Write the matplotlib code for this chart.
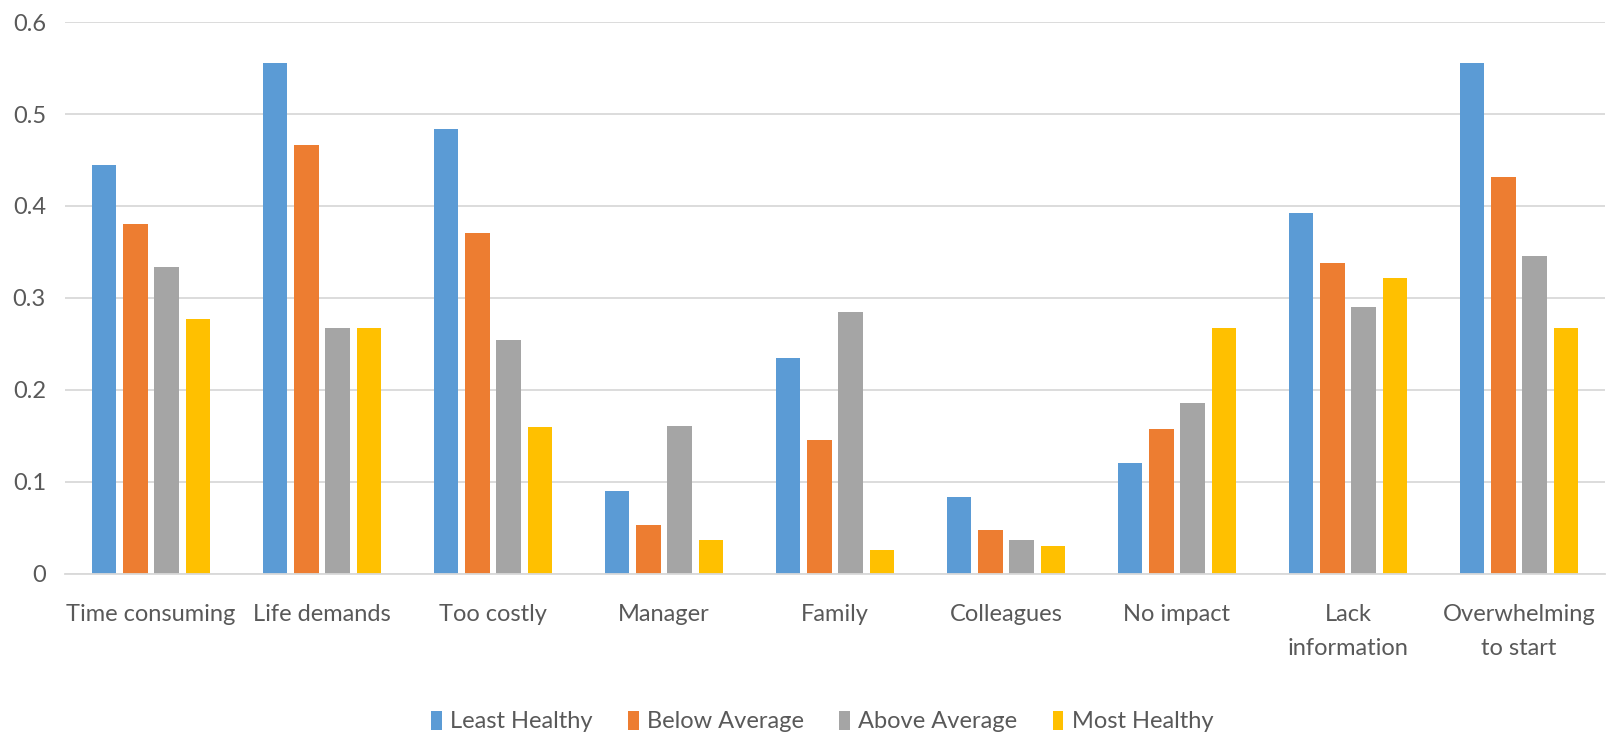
import matplotlib
matplotlib.use("Agg")
import matplotlib.pyplot as plt
import numpy as np

categories = ["Time consuming", "Life demands", "Too costly", "Manager", "Family",
              "Colleagues", "No impact", "Lack\ninformation", "Overwhelming\nto start"]
series_names = ["Least Healthy", "Below Average", "Above Average", "Most Healthy"]
least_healthy = [0.445, 0.556, 0.484, 0.090, 0.235, 0.083, 0.120, 0.392, 0.556]
below_average = [0.380, 0.466, 0.371, 0.053, 0.145, 0.047, 0.157, 0.338, 0.431]
above_average = [0.334, 0.267, 0.254, 0.161, 0.285, 0.037, 0.186, 0.290, 0.346]
most_healthy = [0.277, 0.267, 0.159, 0.037, 0.026, 0.030, 0.267, 0.322, 0.267]
y_ticks = [0, 0.1, 0.2, 0.3, 0.4, 0.5, 0.6]
y_tick_labels = ["0", "0.1", "0.2", "0.3", "0.4", "0.5", "0.6"]

colors = ["#5B9BD5", "#ED7D31", "#A5A5A5", "#FFC000"]
text_color = "#595959"
grid_color = "#D9D9D9"

plt.rcParams["font.family"] = ["Lato", "DejaVu Sans"]

fig = plt.figure(figsize=(16.15, 7.40), dpi=100)
ax = fig.add_axes([0.0405, 0.225, 0.953, 0.745])

x = np.arange(len(categories))
step = 0.183
width = 0.144
all_series = [least_healthy, below_average, above_average, most_healthy]
for k, (vals, name, col) in enumerate(zip(all_series, series_names, colors)):
    ax.bar(x + (k - 1.5) * step, vals, width=width, color=col, label=name, zorder=3)

ax.set_xlim(-0.5, len(categories) - 0.5)
ax.set_ylim(0, 0.6)
ax.set_yticks(y_ticks)
ax.set_yticklabels(y_tick_labels)
ax.set_xticks(x)
ax.set_xticklabels(categories, linespacing=1.75, va="top")

ax.yaxis.grid(True, color=grid_color, linewidth=1.3, zorder=0)
for s in ["top", "right", "left"]:
    ax.spines[s].set_visible(False)
ax.spines["bottom"].set_color(grid_color)
ax.spines["bottom"].set_linewidth(1.3)
ax.spines["bottom"].set_zorder(4)

ax.tick_params(axis="y", length=0, pad=14, labelsize=17, labelcolor=text_color)
ax.tick_params(axis="x", length=0, pad=22, labelsize=17, labelcolor=text_color)

leg = fig.legend(loc="center", bbox_to_anchor=(0.509, 0.025), ncol=4, frameon=False,
                 fontsize=17, handlelength=0.45, handleheight=0.9, handletextpad=0.35,
                 columnspacing=1.5, labelcolor=text_color)

fig.savefig("out.png", dpi=100, facecolor="white")
